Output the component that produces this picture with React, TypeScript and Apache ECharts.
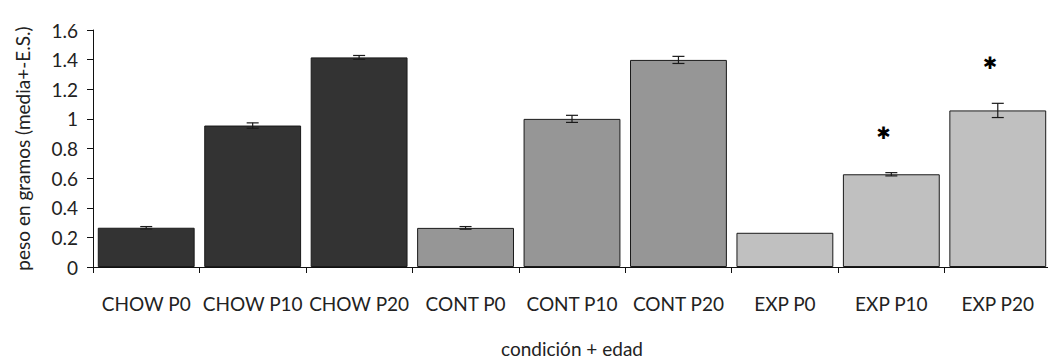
import React, { useEffect, useRef } from "react";
import * as echarts from "echarts";

const categories = ["CHOW P0", "CHOW P10", "CHOW P20", "CONT P0", "CONT P10", "CONT P20", "EXP P0", "EXP P10", "EXP P20"];
const means = [0.265, 0.955, 1.415, 0.264, 1.0, 1.398, 0.231, 0.626, 1.057];
const stdErrors = [0.008, 0.018, 0.013, 0.009, 0.024, 0.024, 0.0, 0.011, 0.048];
const groupColors = ["#333333", "#333333", "#333333", "#969696", "#969696", "#969696", "#c0c0c0", "#c0c0c0", "#c0c0c0"];
const significance = ["", "", "", "", "", "", "", "✱", "✱"];
const yTicks = { min: 0, max: 1.6, interval: 0.2 };

const FONT = "Lato";
const FS = 19;

export default function App() {
  const ref = useRef<HTMLDivElement>(null);
  useEffect(() => {
    if (!ref.current) return;
    const chart = echarts.init(ref.current, null, { renderer: "svg" });
    chart.setOption({
      animation: false,
      textStyle: { fontFamily: FONT },
      grid: { left: 93, right: -3, top: 30, bottom: 95, outerBoundsMode: "none", containLabel: false },
      xAxis: {
        type: "category",
        data: categories,
        name: "condición + edad",
        nameLocation: "middle",
        nameGap: 72,
        nameTextStyle: { fontSize: FS, color: "#222", fontFamily: FONT },
        axisLine: { lineStyle: { color: "#111", width: 1 } },
        axisTick: { show: true, alignWithLabel: false, length: 6, lineStyle: { color: "#111" } },
        axisLabel: { fontSize: FS, color: "#222", margin: 27, interval: 0, fontFamily: FONT },
      },
      yAxis: {
        type: "value",
        min: yTicks.min,
        max: yTicks.max,
        interval: yTicks.interval,
        name: "peso en gramos (media+-E.S.)",
        nameLocation: "middle",
        nameRotate: 90,
        nameGap: 61,
        nameTextStyle: { fontSize: FS, color: "#222", fontFamily: FONT },
        axisLine: { show: true, lineStyle: { color: "#111", width: 1 } },
        axisTick: { show: true, length: 6, lineStyle: { color: "#111" } },
        splitLine: { show: false },
        axisLabel: { fontSize: FS, color: "#222", margin: 15, fontFamily: FONT },
      },
      series: [
        {
          type: "bar",
          barCategoryGap: "9%",
          data: means.map((v, i) => ({
            value: v,
            itemStyle: { color: groupColors[i], borderColor: "#1a1a1a", borderWidth: 1 },
          })),
        },
        {
          type: "custom",
          data: means.map((v, i) => [i, v, stdErrors[i]]),
          z: 5,
          renderItem: (params: any, api: any) => {
            const i = api.value(0);
            const m = api.value(1);
            const e = api.value(2);
            const hi = api.coord([i, m + e]);
            const lo = api.coord([i, m - e]);
            const half = 6;
            const children: any[] = [];
            const ls = { stroke: "#1a1a1a", lineWidth: 1.2 };
            if (e > 0) {
              children.push({ type: "line", shape: { x1: hi[0], y1: hi[1], x2: lo[0], y2: lo[1] }, style: ls });
              children.push({ type: "line", shape: { x1: hi[0] - half, y1: hi[1], x2: hi[0] + half, y2: hi[1] }, style: ls });
              children.push({ type: "line", shape: { x1: lo[0] - half, y1: lo[1], x2: lo[0] + half, y2: lo[1] }, style: ls });
            }
            const sig = significance[params.dataIndex];
            if (sig) {
              children.push({
                type: "text",
                style: {
                  text: sig,
                  x: hi[0] - 8,
                  y: hi[1] - 40,
                  align: "center",
                  verticalAlign: "middle",
                  fontSize: 17,
                  fontFamily: "DejaVu Sans",
                  fill: "#000",
                },
              });
            }
            return { type: "group", children };
          },
        },
      ],
    });
    return () => chart.dispose();
  }, []);
  return <div ref={ref} style={{ width: 1048, height: 362, position: "absolute", left: 0, top: 0 }} />;
}
